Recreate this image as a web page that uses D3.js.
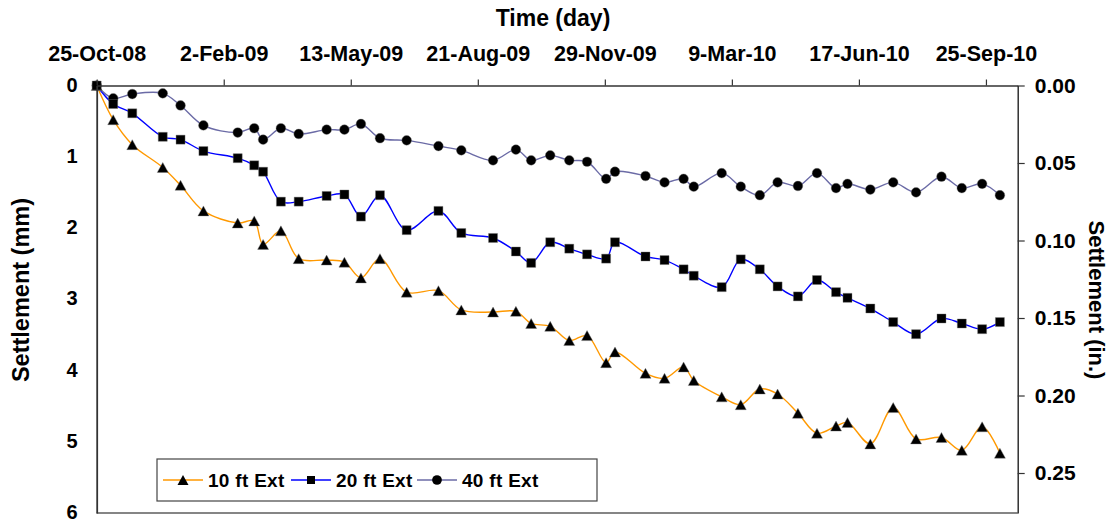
<!DOCTYPE html>
<html>
<head>
<meta charset="utf-8">
<script src="https://cdn.jsdelivr.net/npm/d3@7"></script>
<style>
  html, body { margin: 0; padding: 0; background: #fff; }
  svg { display: block; font-family: "Liberation Sans", Arial, sans-serif; font-weight: bold; }
</style>
</head>
<body>
<svg id="chart" width="1112" height="523"></svg>
<script>
// Elapsed days since the first reading (25-Oct-08)
const days = [0, 13, 28, 52, 66, 84, 111, 124, 131, 145, 159, 181, 195, 208, 223, 244, 269, 287, 312, 330,
  342, 357, 372, 386, 401, 408, 432, 447, 462, 470, 492, 507, 522, 536, 552, 567, 582, 591, 609, 627,
  645, 665, 681, 697, 711];

// Settlement (mm) at each extensometer anchor depth
const ext10 = [0, 0.48, 0.83, 1.15, 1.40, 1.76, 1.93, 1.90, 2.23, 2.04, 2.43, 2.45, 2.48, 2.70, 2.43, 2.90, 2.88, 3.15, 3.18, 3.17,
  3.34, 3.38, 3.58, 3.51, 3.89, 3.74, 4.04, 4.11, 3.95, 4.14, 4.37, 4.48, 4.26, 4.33, 4.60, 4.88, 4.78, 4.73, 5.03, 4.52,
  4.96, 4.94, 5.12, 4.79, 5.16];
const ext20 = [0, 0.26, 0.39, 0.72, 0.76, 0.92, 1.02, 1.12, 1.21, 1.63, 1.63, 1.55, 1.53, 1.84, 1.54, 2.03, 1.76, 2.07, 2.14, 2.33,
  2.49, 2.20, 2.29, 2.37, 2.43, 2.20, 2.40, 2.45, 2.58, 2.67, 2.83, 2.44, 2.58, 2.82, 2.96, 2.73, 2.90, 2.98, 3.13, 3.32,
  3.49, 3.27, 3.34, 3.42, 3.32];
const ext40 = [0, 0.18, 0.12, 0.11, 0.28, 0.56, 0.66, 0.60, 0.76, 0.60, 0.68, 0.62, 0.62, 0.54, 0.74, 0.77, 0.85, 0.91, 1.05, 0.90,
  1.05, 0.98, 1.05, 1.07, 1.31, 1.21, 1.27, 1.36, 1.31, 1.42, 1.23, 1.42, 1.54, 1.36, 1.41, 1.23, 1.44, 1.38, 1.46, 1.36,
  1.50, 1.28, 1.44, 1.38, 1.54];

const seriesNames = ["10 ft Ext", "20 ft Ext", "40 ft Ext"];

// Axis ticks
const timeTickDays = [0, 100, 200, 300, 400, 500, 600, 700];
const timeTickLabels = ["25-Oct-08", "2-Feb-09", "13-May-09", "21-Aug-09", "29-Nov-09", "9-Mar-10", "17-Jun-10", "25-Sep-10"];
const mmTicks = [0, 1, 2, 3, 4, 5, 6];
const inTicks = [0, 0.05, 0.10, 0.15, 0.20, 0.25];

const svg = d3.select("#chart");
const plotL = 96.7, plotR = 1017.7, plotT = 85.5, plotB = 513;
const fontFamily = "'Liberation Sans', Arial, sans-serif";

const x = d3.scaleLinear().domain([0, 725]).range([plotL, plotR]);
const yMm = d3.scaleLinear().domain([0, 6]).range([plotT, plotB]);
const yIn = d3.scaleLinear().domain([0, 0.2758]).range([plotT, plotB]);

const series = [
  { name: seriesNames[0], values: ext10, color: "#FF9900", marker: "triangle" },
  { name: seriesNames[1], values: ext20, color: "#0000FF", marker: "square" },
  { name: seriesNames[2], values: ext40, color: "#6B6BA6", marker: "circle" }
];

// Plot frame: grey bottom border
svg.append("line")
  .attr("x1", plotL).attr("x2", plotR).attr("y1", plotB).attr("y2", plotB)
  .attr("stroke", "#858585").attr("stroke-width", 2.2);

// Smoothed series lines
const line = d3.line()
  .x((d, i) => x(days[i]))
  .y(d => yMm(d))
  .curve(d3.curveCatmullRom.alpha(0.5));

series.forEach(s => {
  svg.append("path")
    .datum(s.values)
    .attr("fill", "none")
    .attr("stroke", s.color)
    .attr("stroke-width", 1.4)
    .attr("d", line);
});

function markerPath(type) {
  if (type === "triangle") {
    const w = 11, h = 10;
    return `M0,${-h / 2}L${w / 2},${h / 2}L${-w / 2},${h / 2}Z`;
  }
  if (type === "square") {
    const s = 9;
    return `M${-s / 2},${-s / 2}h${s}v${s}h${-s}Z`;
  }
  return d3.symbol(d3.symbolCircle, 74)();
}

// Markers (40 ft first so the shared origin shows the square)
[series[2], series[0], series[1]].forEach(s => {
  svg.append("g").selectAll("path")
    .data(s.values)
    .join("path")
    .attr("transform", (d, i) => `translate(${x(days[i])},${yMm(d)})`)
    .attr("d", markerPath(s.marker))
    .attr("fill", "#000")
    .attr("stroke", "#777")
    .attr("stroke-width", 0.4);
});

function styleText(sel, size) {
  sel.attr("fill", "#000")
    .style("font-size", size)
    .style("font-weight", "bold")
    .style("font-family", fontFamily);
}

// Top time axis
const topAxis = svg.append("g")
  .attr("transform", `translate(0,${plotT})`)
  .call(d3.axisTop(x)
    .tickValues(timeTickDays)
    .tickFormat((d, i) => timeTickLabels[i])
    .tickSize(6)
    .tickSizeOuter(0)
    .tickPadding(19));
topAxis.select(".domain").attr("stroke", "#333").attr("stroke-width", 1.6);
topAxis.selectAll(".tick line").attr("stroke", "#333").attr("stroke-width", 1.2);
styleText(topAxis.selectAll("text"), "21.5px");

// Left axis (mm)
const leftAxis = svg.append("g")
  .attr("transform", `translate(${plotL},0)`)
  .call(d3.axisLeft(yMm)
    .tickValues(mmTicks)
    .tickFormat(d3.format("d"))
    .tickSize(0)
    .tickPadding(19));
leftAxis.select(".domain").attr("stroke", "#333").attr("stroke-width", 1.8);
styleText(leftAxis.selectAll("text"), "20px");
leftAxis.selectAll("text").attr("dy", "0.28em");

// Right axis (in.)
const rightAxis = svg.append("g")
  .attr("transform", `translate(${plotR},0)`)
  .call(d3.axisRight(yIn)
    .tickValues(inTicks)
    .tickFormat(d3.format(".2f"))
    .tickSize(7)
    .tickSizeOuter(0)
    .tickPadding(10));
rightAxis.select(".domain").attr("stroke", "#222").attr("stroke-width", 1.4);
rightAxis.selectAll(".tick line").attr("stroke", "#333").attr("stroke-width", 1.2);
styleText(rightAxis.selectAll("text"), "21px");

// Axis titles
svg.append("text")
  .attr("x", 553).attr("y", 26)
  .attr("text-anchor", "middle")
  .style("font-size", "23px")
  .text("Time (day)");

svg.append("text")
  .attr("transform", "translate(29,290) rotate(-90)")
  .attr("text-anchor", "middle")
  .style("font-size", "23.5px")
  .text("Settlement (mm)");

svg.append("text")
  .attr("transform", "translate(1089,300) rotate(90)")
  .attr("text-anchor", "middle")
  .style("font-size", "22px")
  .text("Settlement (in.)");

// Legend
const legend = svg.append("g");
legend.append("rect")
  .attr("x", 157).attr("y", 459).attr("width", 440).attr("height", 42)
  .attr("fill", "#fff").attr("stroke", "#444").attr("stroke-width", 1.2);

const legendX = [163, 291, 417];
series.forEach((s, i) => {
  const g = legend.append("g").attr("transform", `translate(${legendX[i]},480)`);
  g.append("line").attr("x1", 0).attr("x2", 40).attr("y1", 0).attr("y2", 0)
    .attr("stroke", s.color).attr("stroke-width", 1.4);
  g.append("path")
    .attr("transform", "translate(20,0)")
    .attr("d", s.marker === "square" ? "M-4,-4h8v8h-8Z" : markerPath(s.marker))
    .attr("fill", "#000");
  g.append("text")
    .attr("x", 45).attr("y", 0).attr("dy", "0.35em")
    .style("font-size", "19px")
    .style("letter-spacing", "0.3px")
    .text(s.name);
});
</script>
</body>
</html>
